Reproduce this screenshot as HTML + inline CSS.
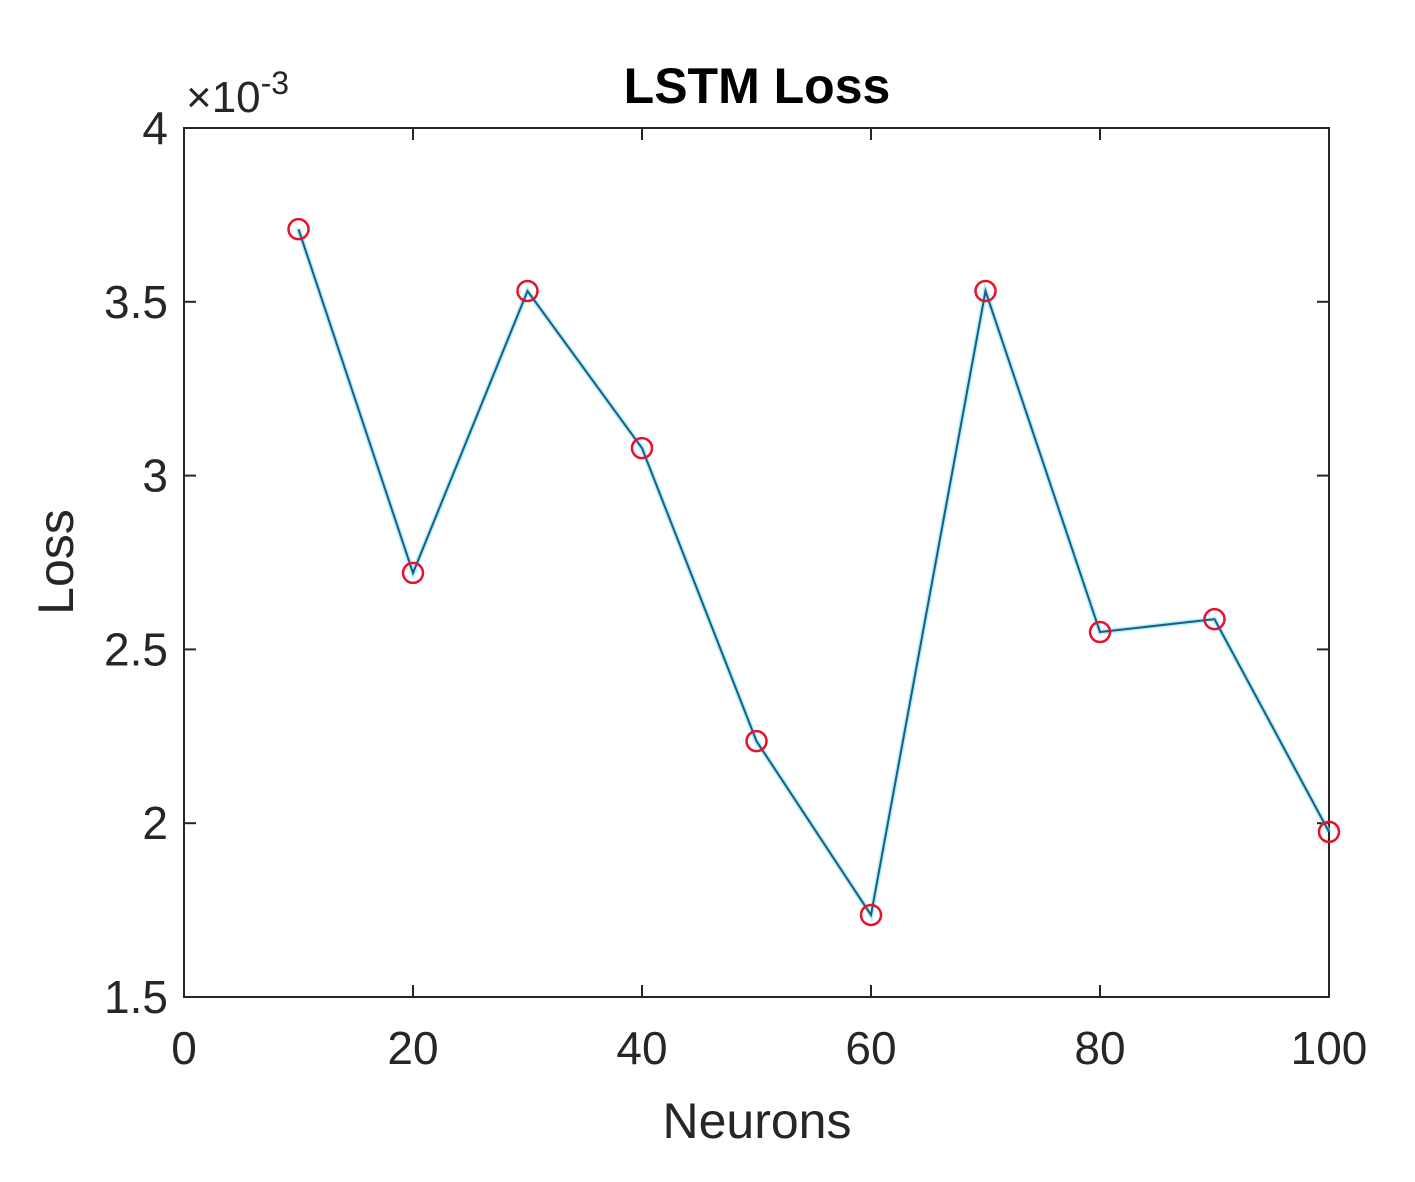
<!DOCTYPE html>
<html><head><meta charset="utf-8"><style>
html,body{margin:0;padding:0;background:#fff;}
svg{display:block;font-family:"Liberation Sans",Arial,sans-serif;}
</style></head><body>
<svg id="chart" width="1415" height="1182" viewBox="0 0 1415 1182">
<rect x="0" y="0" width="1415" height="1182" fill="#fff"/>
<text x="757" y="103" font-size="50" font-weight="bold" text-anchor="middle" fill="#000">LSTM Loss</text>
<text x="757" y="1138" font-size="50" text-anchor="middle" fill="#262626">Neurons</text>
<text transform="translate(73,562) rotate(-90)" font-size="50" text-anchor="middle" fill="#262626">Loss</text>
<text x="186" y="112" font-size="44" fill="#262626">×10<tspan dy="-18" font-size="32">-3</tspan></text>
<g id="axes"></g>
<g id="series"></g>
</svg>
<script>
const xValues = [10,20,30,40,50,60,70,80,90,100];
const lossValues = [3.709,2.72,3.531,3.079,2.236,1.736,3.531,2.55,2.587,1.975];
const xTicks = [0,20,40,60,80,100];
const yTicks = [1.5,2,2.5,3,3.5,4];
const yTickLabels = ["1.5","2","2.5","3","3.5","4"];

const L=184,R=1329,T=128,B=997;
const xMin=0,xMax=100,yMin=1.5,yMax=4;
function sx(v){return L+(v-xMin)/(xMax-xMin)*(R-L);}
function sy(v){return B-(v-yMin)/(yMax-yMin)*(B-T);}
const NS="http://www.w3.org/2000/svg";
function mk(tag,attrs,parent){const e=document.createElementNS(NS,tag);for(const k in attrs)e.setAttribute(k,attrs[k]);parent.appendChild(e);return e;}
const axes=document.getElementById('axes');
const series=document.getElementById('series');

const box=mk('rect',{x:L,y:T,width:R-L,height:B-T,fill:'none',stroke:'#262626','stroke-width':2},axes);



xTicks.forEach((v,i)=>{
  const x=sx(v);
  const t1=mk('line',{x1:x,y1:B,x2:x,y2:B-12,stroke:'#262626','stroke-width':2},axes);
  
  
  const t2=mk('line',{x1:x,y1:T,x2:x,y2:T+12,stroke:'#262626','stroke-width':2},axes);
  
  
  const tx=mk('text',{x:x,y:B+67,'font-size':46,'text-anchor':'middle',fill:'#262626'},axes);
  tx.textContent=String(v);
  
  
});
yTicks.forEach((v,i)=>{
  const y=sy(v);
  const t1=mk('line',{x1:L,y1:y,x2:L+12,y2:y,stroke:'#262626','stroke-width':2},axes);
  
  
  const t2=mk('line',{x1:R,y1:y,x2:R-12,y2:y,stroke:'#262626','stroke-width':2},axes);
  
  
  const tx=mk('text',{x:L-16,y:y+16,'font-size':46,'text-anchor':'end',fill:'#262626'},axes);
  tx.textContent=yTickLabels[i];
  
  
});

const pts=xValues.map((x,i)=>sx(x)+','+sy(lossValues[i])).join(' ');
const glow=mk('polyline',{points:pts,fill:'none',stroke:'#7fe8f5','stroke-width':5,opacity:0.6},series);


const line=mk('polyline',{points:pts,fill:'none',stroke:'#1f5a86','stroke-width':2},series);


xValues.forEach((x,i)=>{
  const c=mk('circle',{cx:sx(x),cy:sy(lossValues[i]),r:10,fill:'none',stroke:'#e8102a','stroke-width':2.5},series);
  
  
});
</script>
</body></html>
